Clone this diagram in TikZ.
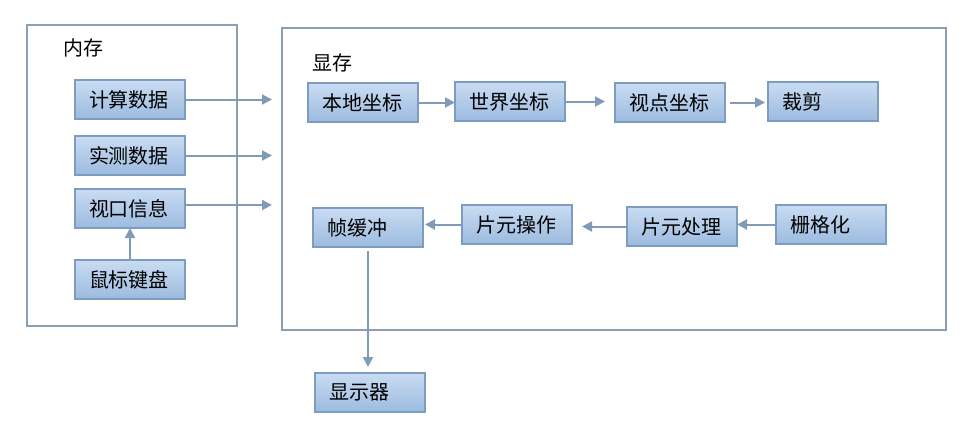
\documentclass[tikz,border=0pt]{standalone}
\usepackage{fontspec}
\newfontfamily\cjk{Noto Sans CJK SC}
\usetikzlibrary{arrows.meta}
\definecolor{boxtop}{HTML}{C9DCF2}
\definecolor{boxbot}{HTML}{9CBADF}
\definecolor{boxline}{HTML}{7C9CC0}
\definecolor{linkc}{HTML}{7F9BB8}
\definecolor{frameline}{HTML}{8A9EB4}

\begin{document}
\begin{tikzpicture}[x=0.5pt, y=-0.5pt, font=\cjk\fontsize{10}{12}\selectfont,
	every node/.style={outer sep=0pt},
	box/.style={draw=boxline, line width=0.8pt, top color=boxtop, bottom color=boxbot, minimum width=55pt, minimum height=19.5pt, text width=41pt, inner xsep=7pt, align=left, anchor=north west},
	frame/.style={draw=frameline, line width=1pt},
	link/.style={draw=linkc, line width=1pt, -{Triangle[length=5pt,width=5pt]}}]
	
	\useasboundingbox (0,0) rectangle (970,428);
	
	% 内存
	\draw[frame] (27,25) rectangle (237,326);
	\node (memlabel) at (83,48) {内存};
	\node[box] (calc) at (75,80) {计算数据};
	\node[box] (meas) at (75,136) {实测数据};
	\node[box] (view) at (75,189) {视口信息};
	\node[box] (mouse) at (75,260) {鼠标键盘};
	\draw[link] (mouse) -- (view);
	
	% 输入显存
	\coordinate (in1) at (272,99);
	\coordinate (in2) at (272,155);
	\coordinate (in3) at (272,205);
	\draw[link] (calc.east) -- (in1 |- calc.east);
	\draw[link] (meas.east) -- (in2 |- meas.east);
	\draw[link] (view.east |- in3) -- (in3);
	
	% 显存
	\draw[frame] (282,28) rectangle (946,330);
	\node (vramlabel) at (332,63) {显存};
	\node[box] (local) at (308,83) {本地坐标};
	\node[box] (world) at (455,82) {世界坐标};
	\node[box] (eye) at (615,83) {视点坐标};
	\node[box] (clip) at (768,82) {裁剪};
	\draw[link] (local.east) -- (local.east -| world.west);
	\draw[link, shorten >=5pt] (world.east) -- (world.east -| eye.west);
	\draw[link, shorten <=2.5pt, shorten >=1.5pt] (eye.east) -- (eye.east -| clip.west);
	
	% 片元
	\node[box] (fbuf) at (313,208) {帧缓冲};
	\node[box] (fop) at (462,205) {片元操作};
	\node[box] (fproc) at (627,207) {片元处理};
	\node[box] (rast) at (776,205) {栅格化};
	\draw[link] (rast.west) -- (rast.west -| fproc.east);
	\draw[link, shorten >=5pt] (fproc.west) -- (fproc.west -| fop.east);
	\draw[link, shorten >=1pt] (fop.west) -- (fop.west -| fbuf.east);
	
	% 显示器
	\node[box] (disp) at (315,373) {显示器};
	\draw[link, shorten <=2pt, shorten >=3pt] (fbuf.south) -- (fbuf.south |- disp.north);
	
\end{tikzpicture}
\end{document}
